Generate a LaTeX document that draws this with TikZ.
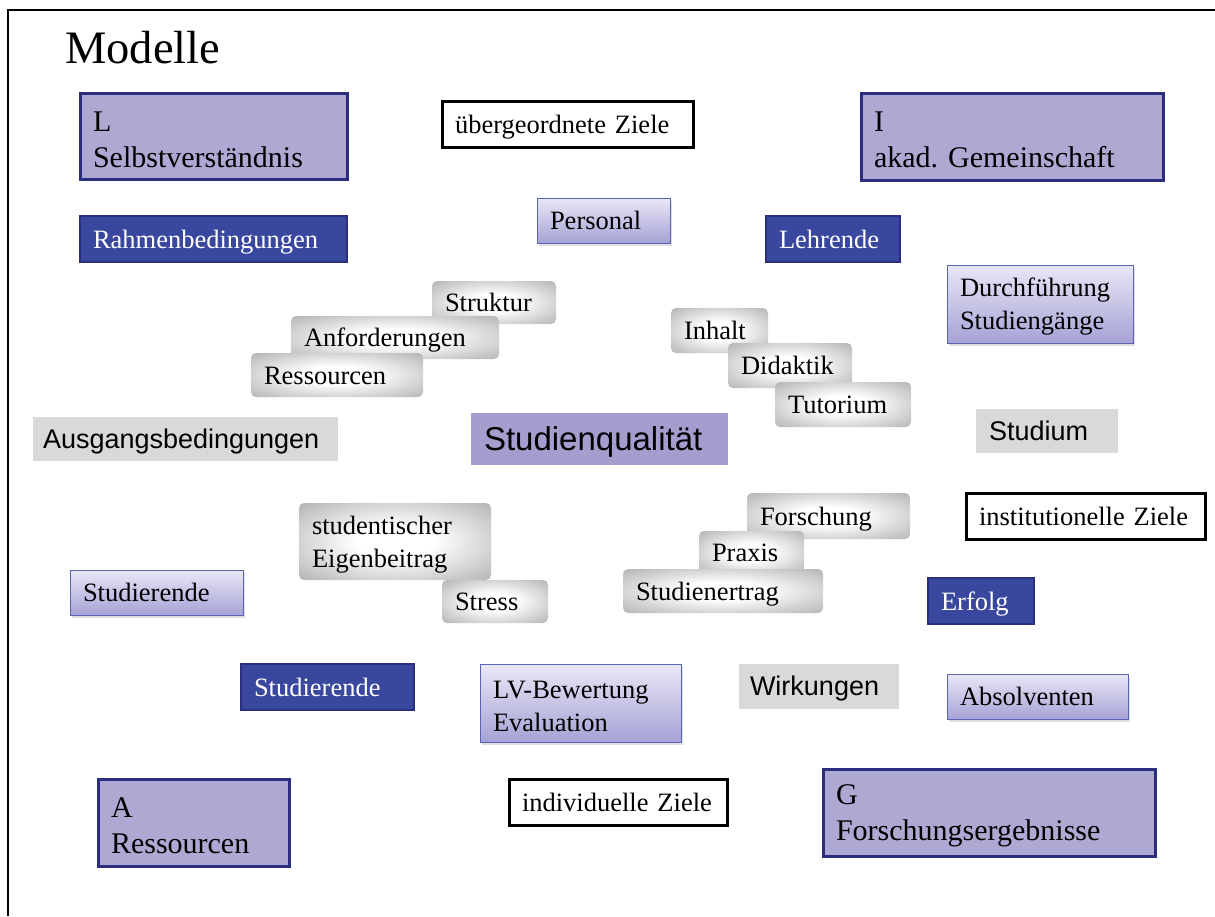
\documentclass[tikz,border=0pt]{standalone}
\usepackage{fontspec}
\setmainfont{Liberation Serif}
\newfontfamily\arialfont{Liberation Sans}
\usepackage{tikz}
\usetikzlibrary{shadows}
\frenchspacing
\definecolor{Lavender}{HTML}{ADA9D3}
\definecolor{NavyLine}{HTML}{2B2E7E}
\definecolor{Navy}{HTML}{3A479E}
\definecolor{GradTop}{HTML}{E9E7F6}
\definecolor{GradBot}{HTML}{A6A2D6}
\definecolor{GradLine}{HTML}{5A63B5}
\definecolor{Quali}{HTML}{A39ECE}
\definecolor{LightGrey}{HTML}{D9D9D9}
\definecolor{GlowEdge}{HTML}{8A8A8A}
\pgfdeclareradialshading{glow}{\pgfpoint{0bp}{0bp}}{color(0bp)=(white); color(10bp)=(white); color(50bp)=(GlowEdge); color(75bp)=(GlowEdge)}

\begin{document}
\begin{tikzpicture}[x=1pt,y=-1pt,
  base/.style={anchor=north west,inner xsep=13pt,inner ysep=0pt,outer sep=0pt,align=left,
    font=\fontsize{26.5}{33}\selectfont,execute at begin node={\rule[-0.22em]{0pt}{1.12em}}},
  wh/.style 2 args={minimum width=#1pt,minimum height=#2pt,text width=#1pt-26pt},
  lavbox/.style={base,draw=NavyLine,line width=3pt,fill=Lavender,font=\fontsize{30}{36}\selectfont},
  navybox/.style={base,draw=NavyLine,line width=2pt,fill=Navy,text=white},
  gradbox/.style={base,draw=GradLine,line width=1pt,top color=GradTop,bottom color=GradBot,
    drop shadow={shadow xshift=2pt,shadow yshift=-3pt,opacity=0.25}},
  glowbox/.style={base,rounded corners=5pt,shading=glow},
  zielbox/.style={base,draw=black,line width=3pt,fill=white},
  greybox/.style={base,fill=LightGrey,font=\arialfont\fontsize{27}{32}\selectfont}
]
  \useasboundingbox (0,0) rectangle (1215,916);
  \draw[line width=2pt] (8,916) -- (8,10) -- (1215,10);
  \node[anchor=base west,inner sep=0pt,font=\fontsize{46.5}{56}\selectfont] (title) at (65,63) {Modelle};

  % oben
  \node[lavbox,wh={267}{86}] (lsv) at (80,93) {L\\Selbstverständnis};
  \node[zielbox,wh={251}{46}] (uziele) at (442,101) {übergeordnete Ziele};
  \node[lavbox,wh={302}{87}] (iakad) at (861,93) {I\\akad. Gemeinschaft};
  \node[navybox,wh={267}{46}] (rahmen) at (80,216) {Rahmenbedingungen};
  \node[gradbox,wh={133}{45}] (personal) at (537,198) {Personal};
  \node[navybox,wh={134}{46}] (lehrende) at (766,216) {Lehrende};
  \node[gradbox,wh={186}{78}] (durchf) at (947,265) {Durchführung\\Studiengänge};

  % Ausgangsbedingungen / Durchfuehrung
  \node[glowbox,wh={124}{43}] (struktur) at (432,281) {Struktur};
  \node[glowbox,wh={208}{43}] (anford) at (291,316) {Anforderungen};
  \node[glowbox,wh={172}{44}] (ressglow) at (251,353) {Ressourcen};
  \node[glowbox,wh={97}{45}] (inhalt) at (671,308) {Inhalt};
  \node[glowbox,wh={124}{45}] (didaktik) at (728,343) {Didaktik};
  \node[glowbox,wh={136}{45}] (tutorium) at (775,382) {Tutorium};

  % Mitte
  \node[greybox,inner xsep=10pt,wh={305}{44},text width=285pt] (ausgang) at (33,417) {Ausgangsbedingungen};
  \node[greybox,fill=Quali,wh={257}{52},font=\arialfont\fontsize{33}{38}\selectfont] (quali) at (471,413) {Studienqualität};
  \node[greybox,wh={142}{44}] (studium) at (976,409) {Studium};

  % Ertrag
  \node[glowbox,wh={192}{77}] (eigen) at (299,503) {studentischer\\Eigenbeitrag};
  \node[glowbox,wh={106}{43}] (stress) at (442,580) {Stress};
  \node[glowbox,wh={163}{46}] (forschung) at (747,493) {Forschung};
  \node[glowbox,wh={105}{43}] (praxis) at (699,531) {Praxis};
  \node[glowbox,wh={200}{44}] (ertrag) at (623,569) {Studienertrag};
  \node[zielbox,wh={239}{46}] (iziele) at (966,493) {institutionelle Ziele};

  % unten
  \node[gradbox,wh={173}{45}] (studgrad) at (70,570) {Studierende};
  \node[navybox,wh={106}{46}] (erfolg) at (928,578) {Erfolg};
  \node[navybox,wh={173}{46}] (studnavy) at (241,664) {Studierende};
  \node[gradbox,wh={201}{78}] (lvbew) at (480,664) {LV-Bewertung\\Evaluation};
  \node[greybox,inner xsep=11pt,wh={160}{45},text width=138pt] (wirkungen) at (739,664) {Wirkungen};
  \node[gradbox,wh={181}{45}] (absolv) at (947,674) {Absolventen};
  \node[lavbox,wh={191}{87}] (aress) at (98,779) {A\\Ressourcen};
  \node[zielbox,wh={218}{46}] (indziele) at (509,779) {individuelle Ziele};
  \node[lavbox,wh={332}{87}] (gforsch) at (823,769) {G\\Forschungsergebnisse};
\end{tikzpicture}
\end{document}
